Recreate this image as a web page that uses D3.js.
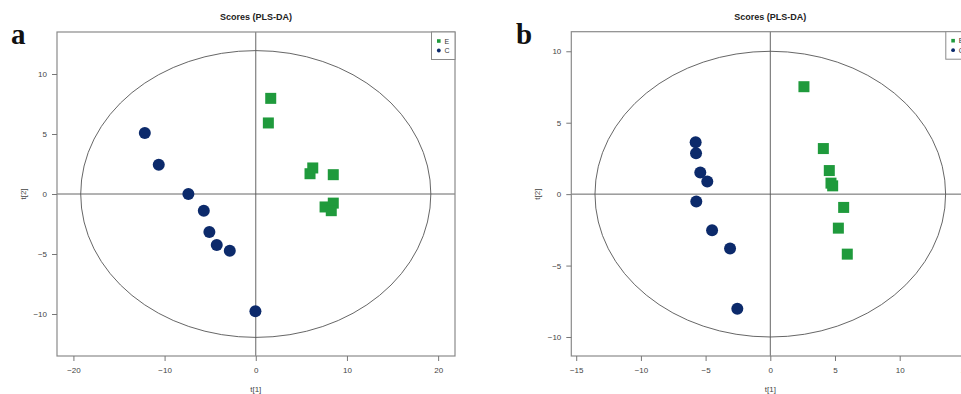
<!DOCTYPE html>
<html>
<head>
<meta charset="utf-8">
<script src="https://cdn.jsdelivr.net/npm/d3@7"></script>
<style>
  body { margin: 0; background: #fff; }
  svg { display: block; }
</style>
</head>
<body>
<div id="chart"></div>
<script>
// panel a scores
var aE = [[1.64, 7.97], [1.38, 5.92], [5.95, 1.69], [6.25, 2.17], [8.5, 1.61],
          [7.6, -1.08], [8.5, -0.76], [8.28, -1.39]];
var aC = [[-12.17, 5.08], [-10.64, 2.44], [-7.39, 0.0], [-5.7, -1.39], [-5.09, -3.17],
          [-4.28, -4.25], [-2.85, -4.72], [-0.04, -9.78]];
// panel b scores
var bE = [[2.6, 7.52], [4.1, 3.19], [4.56, 1.65], [4.69, 0.77], [4.82, 0.58],
          [5.67, -0.93], [5.26, -2.38], [5.95, -4.2]];
var bC = [[-5.77, 3.64], [-5.74, 2.87], [-5.41, 1.51], [-4.87, 0.88], [-5.72, -0.52],
          [-4.5, -2.52], [-3.11, -3.8], [-2.55, -8.02]];

var aXTicks = [-20, -10, 0, 10, 20];
var aYTicks = [-10, -5, 0, 5, 10];
var bXTicks = [-15, -10, -5, 0, 5, 10, 15];
var bYTicks = [-10, -5, 0, 5, 10];
var groups = ["E", "C"];

var green = "#1f9a3c", navy = "#0c2a6b";

var svg = d3.select("#chart").append("svg")
    .attr("width", 961)
    .attr("height", 394);

function panel(opt) {
    var g = svg.append("g");
    var x = d3.scaleLinear().domain(opt.xDom).range([opt.left, opt.right]);
    var y = d3.scaleLinear().domain(opt.yDom).range([opt.bottom, opt.top]);

    // ellipse (Hotelling T2)
    g.append("ellipse")
        .attr("cx", x(0)).attr("cy", y(0))
        .attr("rx", x(opt.ell[0]) - x(0))
        .attr("ry", y(0) - y(opt.ell[1]))
        .attr("fill", "none")
        .attr("stroke", "#555")
        .attr("stroke-width", 0.9);

    // zero lines
    g.append("line")
        .attr("x1", x(0)).attr("x2", x(0))
        .attr("y1", opt.top).attr("y2", opt.bottom)
        .attr("stroke", "#555").attr("stroke-width", 0.9);
    g.append("line")
        .attr("x1", opt.left).attr("x2", opt.right)
        .attr("y1", y(0)).attr("y2", y(0))
        .attr("stroke", "#555").attr("stroke-width", 0.9);

    // box
    g.append("rect")
        .attr("x", opt.left).attr("y", opt.top)
        .attr("width", opt.right - opt.left)
        .attr("height", opt.bottom - opt.top)
        .attr("fill", "none")
        .attr("stroke", "#8a8a8a")
        .attr("stroke-width", 1.2);

    // axes
    var xa = g.append("g")
        .attr("transform", "translate(0," + opt.bottom + ")")
        .call(d3.axisBottom(x).tickValues(opt.xTicks).tickSize(5).tickPadding(6).tickSizeOuter(0));
    var ya = g.append("g")
        .attr("transform", "translate(" + opt.left + ",0)")
        .call(d3.axisLeft(y).tickValues(opt.yTicks).tickSize(5).tickPadding(5).tickSizeOuter(0));
    [xa, ya].forEach(function(a) {
        a.select(".domain").remove();
        a.selectAll("line").attr("stroke", "#777");
        a.selectAll("text")
            .attr("fill", "#444")
            .style("font-family", "Liberation Sans, Arial, sans-serif")
            .style("font-size", "8px");
    });

    // points
    g.selectAll(".sq").data(opt.E).join("rect")
        .attr("class", "sq")
        .attr("x", d => x(d[0]) - 5.5)
        .attr("y", d => y(d[1]) - 5.5)
        .attr("width", 11).attr("height", 11)
        .attr("fill", green);
    g.selectAll(".ci").data(opt.C).join("circle")
        .attr("class", "ci")
        .attr("cx", d => x(d[0]))
        .attr("cy", d => y(d[1]))
        .attr("r", 6)
        .attr("fill", navy);

    // legend
    var lx = opt.right - 23.5;
    g.append("rect")
        .attr("x", lx).attr("y", opt.top)
        .attr("width", 23.5).attr("height", 27.5)
        .attr("fill", "#fff")
        .attr("stroke", "#8a8a8a").attr("stroke-width", 1);
    groups.forEach(function(k, i) {
        var cy = opt.top + 9 + i * 9.5;
        if (k === "E") {
            g.append("rect").attr("x", lx + 5.5).attr("y", cy - 1.8)
                .attr("width", 3.6).attr("height", 3.6).attr("fill", green);
        } else {
            g.append("circle").attr("cx", lx + 7.3).attr("cy", cy)
                .attr("r", 1.9).attr("fill", navy);
        }
        g.append("text").attr("x", lx + 13).attr("y", cy + 2.6)
            .attr("fill", "#333")
            .style("font-family", "Liberation Sans, Arial, sans-serif")
            .style("font-size", "7px")
            .text(k);
    });

    // titles
    g.append("text")
        .attr("x", (opt.left + opt.right) / 2).attr("y", 20)
        .attr("text-anchor", "middle")
        .attr("fill", "#222")
        .style("font-family", "Liberation Sans, Arial, sans-serif")
        .style("font-weight", "bold")
        .style("font-size", "9px")
        .text("Scores (PLS-DA)");
    g.append("text")
        .attr("x", x(0)).attr("y", 392)
        .attr("text-anchor", "middle")
        .attr("fill", "#444")
        .style("font-family", "Liberation Sans, Arial, sans-serif")
        .style("font-size", "8px")
        .text("t[1]");
    g.append("text")
        .attr("transform", "translate(" + (opt.left - 31) + "," + y(0) + ") rotate(-90)")
        .attr("text-anchor", "middle")
        .attr("fill", "#444")
        .style("font-family", "Liberation Sans, Arial, sans-serif")
        .style("font-size", "8px")
        .text("t[2]");
    g.append("text")
        .attr("x", opt.letterX).attr("y", 44)
        .attr("fill", "#111")
        .style("font-family", "Liberation Serif, Times New Roman, serif")
        .style("font-weight", "bold")
        .style("font-size", "29px")
        .text(opt.letter);
}

panel({
    letter: "a", letterX: 11,
    left: 57, right: 455, top: 32, bottom: 356,
    xDom: [-21.8, 21.85], yDom: [-13.5, 13.5],
    ell: [19.2, 11.95],
    xTicks: aXTicks, yTicks: aYTicks,
    E: aE, C: aC
});

panel({
    letter: "b", letterX: 516,
    left: 571.3, right: 969.3, top: 31.7, bottom: 356,
    xDom: [-15.38, 15.38], yDom: [-11.33, 11.37],
    ell: [13.55, 10.0],
    xTicks: bXTicks, yTicks: bYTicks,
    E: bE, C: bC
});
</script>
</body>
</html>
